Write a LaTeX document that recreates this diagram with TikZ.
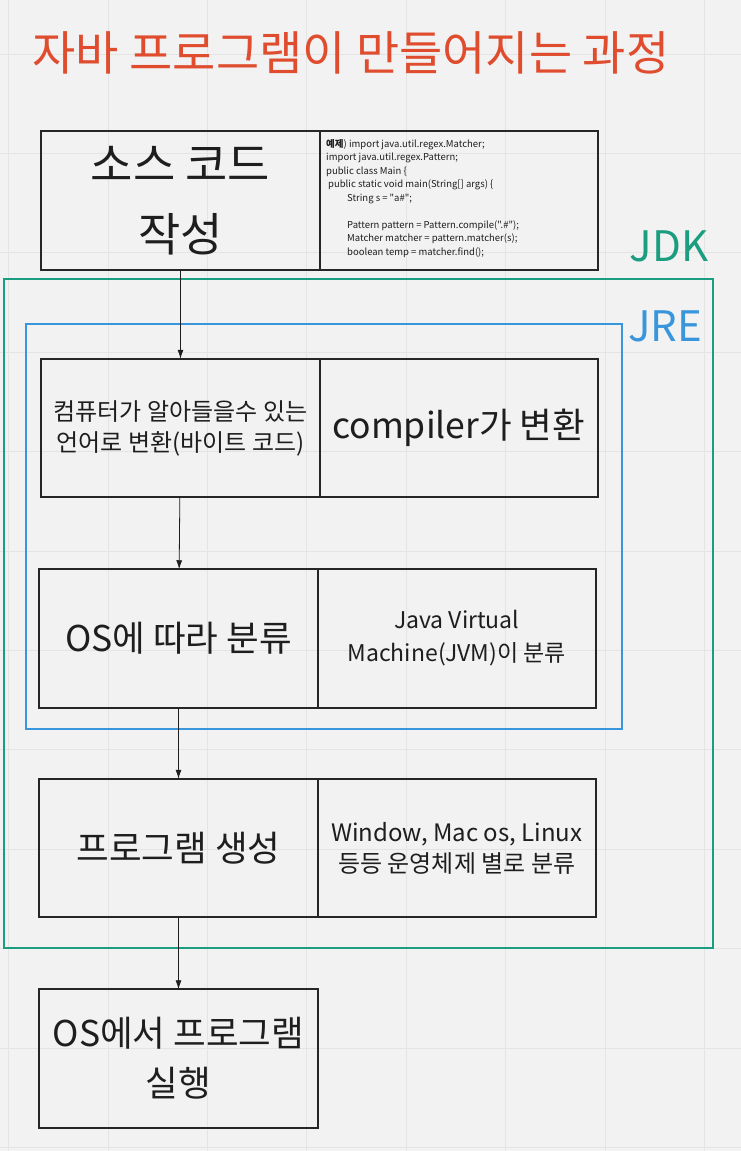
\documentclass[tikz,border=0pt]{standalone}
\usepackage{fontspec}
\setmainfont{Noto Sans CJK KR}
\newfontfamily\codefont{Noto Sans CJK KR}
\usepackage{tikz}
\usetikzlibrary{positioning}
\usetikzlibrary{arrows.meta}

\definecolor{paper}{RGB}{242,242,242}
\definecolor{gridgray}{RGB}{228,228,228}
\definecolor{titlered}{RGB}{224,76,46}
\definecolor{jdkteal}{RGB}{27,158,127}
\definecolor{jreblue}{RGB}{58,150,220}
\definecolor{boxline}{RGB}{38,38,38}
\definecolor{ink}{RGB}{30,30,30}

\begin{document}
\begin{tikzpicture}[
      x=1pt, y=-1pt,
      box/.style={draw=boxline, line width=2pt, minimum height=138.5pt,
        inner sep=0pt, outer sep=0pt, align=center, text=ink},
      lbox/.style={box, minimum width=279pt},
      rbox/.style={box, minimum width=277.5pt},
      big/.style={font=\fontsize{35.5}{50}\selectfont},
      small/.style={font=\fontsize{24}{31}\selectfont},
      flow/.style={-{Latex[length=9pt,width=6pt]}, line width=0.8pt, draw=ink}
    ]
    \fill[paper] (0,0) rectangle (741,1151);
    \useasboundingbox (0,0) rectangle (741,1151);
    % faint grid
    \foreach \i in {0,...,7}
      \draw[gridgray, line width=0.8pt] (8.5+99.4*\i,0) -- (8.5+99.4*\i,1151);
    \foreach \j in {0,...,11}
      \draw[gridgray, line width=0.8pt] (0,54+99.4*\j) -- (741,54+99.4*\j);

    \node[anchor=west, text=titlered, font=\fontsize{47}{52}\selectfont] (title)
      at (29,53) {자바 프로그램이 만들어지는 과정};

    % JDK / JRE frames
    \draw[jdkteal, line width=2pt] (4,279) rectangle (713,948);
    \node[text=jdkteal, font=\fontsize{42}{48}\selectfont] (jdk) at (669,246) {JDK};
    \draw[jreblue, line width=2pt] (26,324) rectangle (622,729);
    \node[text=jreblue, font=\fontsize{42}{48}\selectfont] (jre) at (665,326) {JRE};

    % steps
    \node[lbox, font=\fontsize{46}{70}\selectfont] (srcL) at (180.5,200.5) {소스 코드\\작성};
    \node[rbox, right=0pt of srcL] (srcR) {};
    \node[anchor=north west, align=left, inner sep=0pt, text=ink,
          font=\codefont\fontsize{9.5}{13.5}\selectfont] (srccode)
      at ([xshift=6pt,yshift=-8pt]srcR.north west) {%
        {\bfseries 예제}) import java.util.regex.Matcher;\\
        import java.util.regex.Pattern;\\
        public class Main \{\\
        \hspace*{2pt}public static void main(String[] args) \{\\
        \hspace*{21pt}String s = "a\#";\\
        \mbox{}\\
        \hspace*{21pt}Pattern pattern = Pattern.compile(".\#");\\
        \hspace*{21pt}Matcher matcher = pattern.matcher(s);\\
        \hspace*{21pt}boolean temp = matcher.find();};

    \node[lbox, small] (convL) at (180.5,428) {컴퓨터가 알아들을수 있는\\언어로 변환(바이트 코드)};
    \node[rbox, right=0pt of convL, big] (convR) {compiler가 변환};

    \node[lbox, big] (vmL) at (178.5,638.5) {OS에 따라 분류};
    \node[rbox, right=0pt of vmL, font=\fontsize{23}{33}\selectfont] (vmR) {Java Virtual\\Machine(JVM)이 분류};

    \node[lbox, big] (progL) at (178.5,848) {프로그램 생성};
    \node[rbox, right=0pt of progL, small] (progR) {Window, Mac os, Linux\\등등 운영체제 별로 분류};

    \node[lbox, big] (runL) at (178.5,1058.5) {OS에서 프로그램\\실행};

    \draw[flow] (srcL) -- (convL);
    \draw[flow] (convL) -- (vmL);
    \draw[flow] (vmL) -- (progL);
    \draw[flow] (progL) -- (runL);
\end{tikzpicture}
\end{document}
